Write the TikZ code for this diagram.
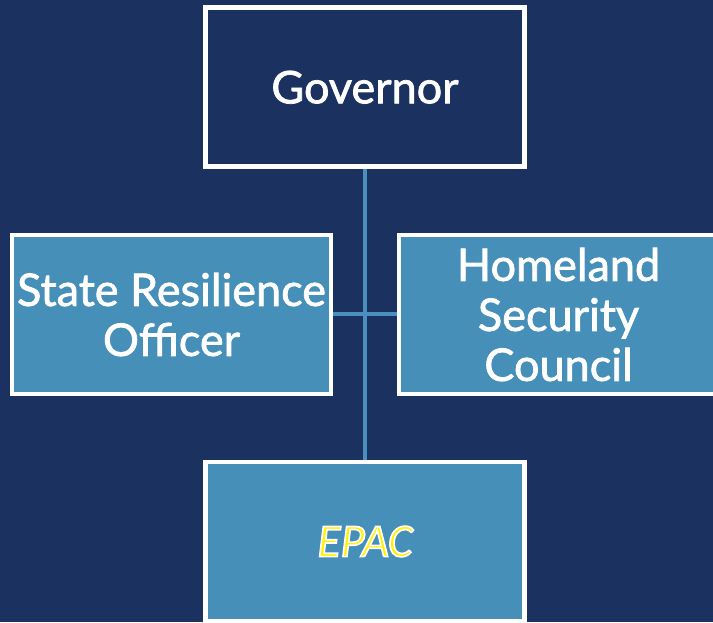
\documentclass[tikz,border=0pt]{standalone}
\usepackage{fontspec}
\setmainfont{Lato}
\newfontface\boxfont{Lato}[FakeBold=1.6]
\newfontface\epacfont{Carlito Italic}[FakeBold=3.5]
\definecolor{bg}{RGB}{27,50,96}
\definecolor{mid}{RGB}{70,143,185}
\definecolor{conn}{RGB}{74,144,190}
\begin{document}
\begin{tikzpicture}[x=1pt,y=1pt]
\tikzset{
  box/.style={draw=white, line width=4.5pt, minimum width=319pt, minimum height=159pt,
    inner sep=0pt, align=center, text=white, font=\boxfont\fontsize{45}{50}\selectfont},
  connline/.style={draw=conn, line width=4pt}
}
\useasboundingbox (0,0) rectangle (713,622);
\clip (0,0) rectangle (713,622);
\fill[bg] (0,0) rectangle (713,622);
\node[box, fill=bg] (gov) at (365,534.75) {Governor};
\node[box, fill=mid] (sro) at (171.5,307.5) {State Resilience\\Officer};
\node[box, fill=mid] (hsc) at (558.5,307.5) {Homeland\\Security\\Council};
\node[box, fill=mid] (epac) at (365,80.5) {\color{yellow}\special{pdf:code 1 1 1 RG}\epacfont\fontsize{47}{50}\selectfont EPAC};
\draw[connline] (gov.south) -- (epac.north);
\draw[connline] (sro.east) -- (hsc.west);
\end{tikzpicture}
\end{document}
